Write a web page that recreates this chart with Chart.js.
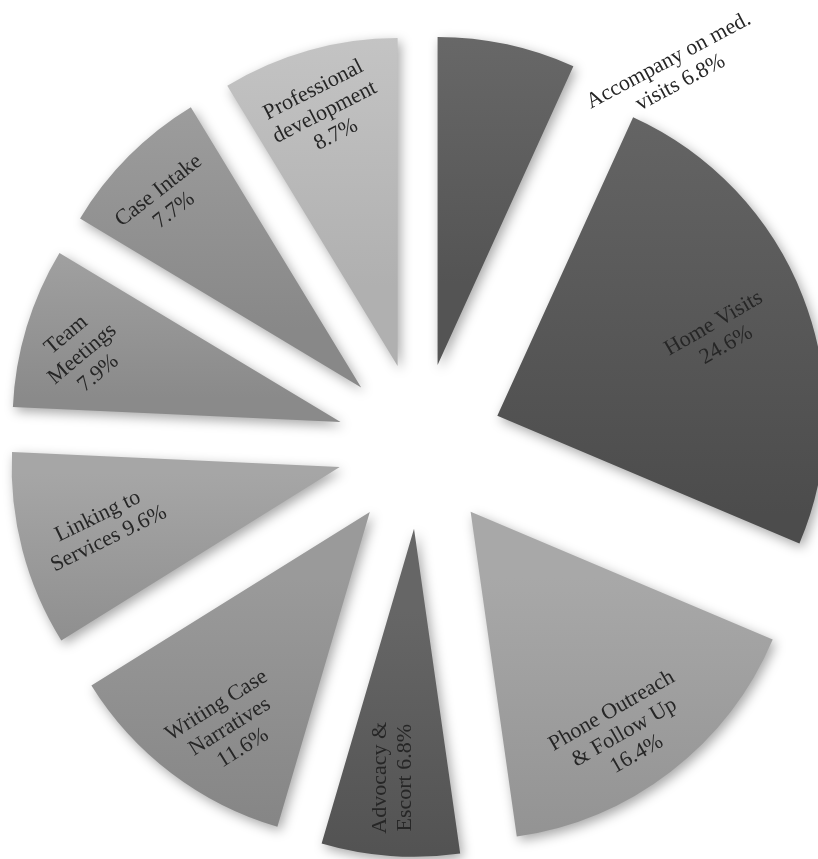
<!DOCTYPE html>
<html>
<head>
<meta charset="utf-8">
<script src="https://cdn.jsdelivr.net/npm/chart.js@4"></script>
<style>
  html, body { margin: 0; padding: 0; background: #fff; }
  #wrap { width: 818px; height: 859px; position: relative; }
</style>
</head>
<body>
<div id="wrap"><canvas id="chart"></canvas></div>
<script>
const categories = ["Accompany on med. visits", "Home Visits", "Phone Outreach & Follow Up", "Advocacy & Escort",
  "Writing Case Narratives", "Linking to Services", "Team Meetings", "Case Intake", "Professional development"];
const values = [6.8, 24.6, 16.4, 6.8, 11.6, 9.6, 7.9, 7.7, 8.7];

// how each name is wrapped; the percentage goes on the end of the last line
const labelWrap = [["Accompany on med.", "visits"], ["Home Visits", ""], ["Phone Outreach", "& Follow Up", ""],
  ["Advocacy &", "Escort"], ["Writing Case", "Narratives", ""], ["Linking to", "Services"],
  ["Team", "Meetings", ""], ["Case Intake", ""], ["Professional", "development", ""]];

// styling
const sliceColors = [0x62, 0x5a, 0x9c, 0x5a, 0x8e, 0x9a, 0x98, 0x96, 0xbe];
const labelDist = [1.38, 0.976, 1.073, 1.015, 1.034, 0.997, 1.067, 1.076, 1.058];
const labelShift = [22, 0.9, 2.1, 0.6, -3.1, 0.2, -1.6, -0.8, -0.3];
const labelRotation = [-28, -30, -30, -90, -32, -26, -40, -38, -27];

const RADIUS = 328;
const EXPLODE = 83;
const total = values.reduce((a, b) => a + b, 0);

function gray(v) {
  v = Math.max(0, Math.min(255, Math.round(v)));
  return `rgb(${v},${v},${v})`;
}

// vertical extent of an exploded slice, angles clockwise from top
function sliceExtent(i, cx, cy) {
  let before = 0;
  for (let k = 0; k < i; k++) before += values[k];
  const a0 = before / total * 360;
  const a1 = (before + values[i]) / total * 360;
  const rad = d => d * Math.PI / 180;
  const m = rad((a0 + a1) / 2);
  const oy = cy - Math.cos(m) * EXPLODE;
  const ys = [oy, oy - Math.cos(rad(a0)) * RADIUS, oy - Math.cos(rad(a1)) * RADIUS];
  if (a0 <= 0) ys.push(oy - RADIUS);
  if (a0 <= 180 && a1 >= 180) ys.push(oy + RADIUS);
  return [Math.min(...ys), Math.max(...ys)];
}

function sliceFill(context) {
  const i = context.dataIndex;
  const chart = context.chart;
  const area = chart.chartArea;
  const base = sliceColors[i];
  if (!area) return gray(base);
  const cx = (area.left + area.right) / 2;
  const cy = (area.top + area.bottom) / 2;
  const [y0, y1] = sliceExtent(i, cx, cy);
  const g = chart.ctx.createLinearGradient(0, y0, 0, y1);
  g.addColorStop(0, gray(base + 12));
  g.addColorStop(1, gray(base - 14));
  return g;
}

const explodePlugin = {
  id: "explode",
  beforeDatasetsDraw(chart) {
    const ctx = chart.ctx;
    const arcs = chart.getDatasetMeta(0).data;
    ctx.save();
    ctx.shadowColor = "rgba(0,0,0,0.35)";
    ctx.shadowBlur = 12;
    ctx.shadowOffsetX = 3;
    ctx.shadowOffsetY = 4;
    arcs.forEach(arc => {
      const mid = (arc.startAngle + arc.endAngle) / 2;
      ctx.save();
      ctx.translate(Math.cos(mid) * EXPLODE, Math.sin(mid) * EXPLODE);
      arc.draw(ctx);
      ctx.restore();
    });
    ctx.restore();
    return false;
  },
  afterDraw(chart) {
    const ctx = chart.ctx;
    const arcs = chart.getDatasetMeta(0).data;
    ctx.save();
    ctx.font = "22px 'Liberation Serif', 'Times New Roman', serif";
    ctx.fillStyle = "#262626";
    ctx.textAlign = "center";
    ctx.textBaseline = "middle";
    const lh = 25;
    arcs.forEach((arc, i) => {
      const mid = (arc.startAngle + arc.endAngle) / 2 + labelShift[i] * Math.PI / 180;
      const d = labelDist[i] * arc.outerRadius;
      const x = arc.x + Math.cos(mid) * d;
      const y = arc.y + Math.sin(mid) * d;
      const pct = values[i].toFixed(1) + "%";
      const lines = labelWrap[i].slice();
      const last = lines.length - 1;
      lines[last] = lines[last] ? lines[last] + " " + pct : pct;
      ctx.save();
      ctx.translate(x, y);
      ctx.rotate(labelRotation[i] * Math.PI / 180);
      lines.forEach((t, k) => {
        ctx.fillText(t, 0, (k - (lines.length - 1) / 2) * lh);
      });
      ctx.restore();
    });
    ctx.restore();
  }
};

new Chart(document.getElementById("chart"), {
  type: "pie",
  data: {
    labels: categories,
    datasets: [{
      data: values,
      backgroundColor: sliceFill,
      borderWidth: 0,
      clip: false
    }]
  },
  options: {
    responsive: true,
    maintainAspectRatio: false,
    animation: false,
    radius: RADIUS,
    layout: { padding: { left: 22, top: 33 } },
    plugins: {
      legend: { display: false },
      tooltip: { enabled: false }
    }
  },
  plugins: [explodePlugin]
});
</script>
</body>
</html>
